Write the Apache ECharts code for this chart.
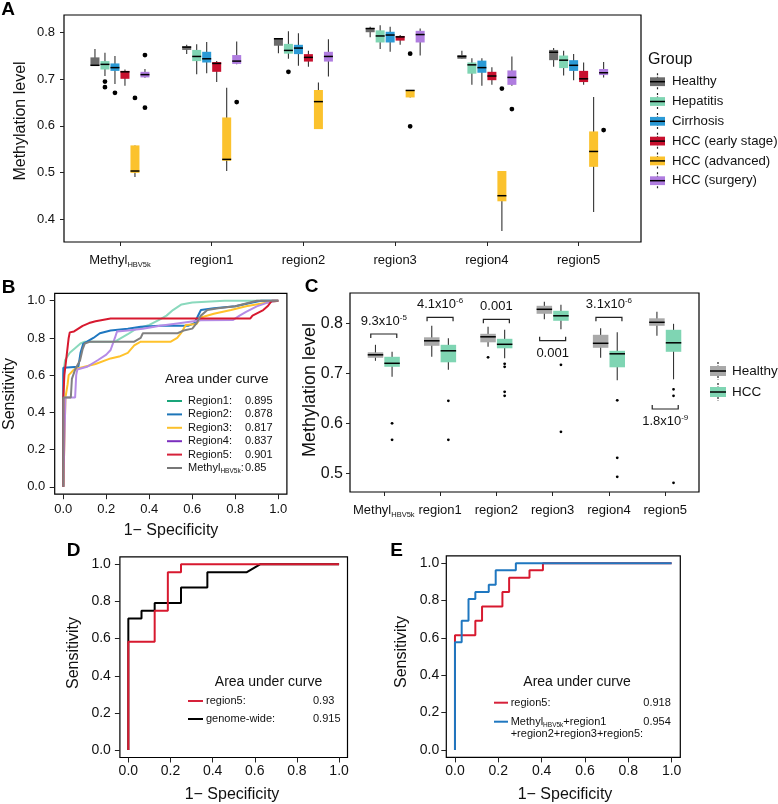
<!DOCTYPE html>
<html><head><meta charset="utf-8">
<script src="https://cdn.jsdelivr.net/npm/echarts@6/dist/echarts.min.js"></script>
<style>html,body{margin:0;padding:0;background:#fff}#c{width:778px;height:804px}</style>
</head><body><div id="c"></div>
<script>
const FONT = '"Liberation Sans", Arial, Helvetica, sans-serif';

// ---------------- Panel A : methylation by group ----------------
const regionLabels = ['{m|Methyl}{s|HBV5k}', '{m|region1}', '{m|region2}', '{m|region3}', '{m|region4}', '{m|region5}'];
const groupNames = ['Healthy', 'Hepatitis', 'Cirrhosis', 'HCC (early stage)', 'HCC (advanced)', 'HCC (surgery)'];
const groupColors = ['#6b6b6b', '#7fd5b3', '#2b9ad6', '#c8102e', '#fbc22d', '#b07de0'];
// [min, Q1, median, Q3, max] for Methyl, region1..region5
const boxHealthy   = [[0.729,0.729,0.730,0.747,0.765],[0.754,0.763,0.769,0.771,0.774],[0.756,0.772,0.787,0.788,0.788],[0.790,0.801,0.809,0.810,0.813],[0.744,0.744,0.749,0.752,0.761],[0.727,0.741,0.758,0.763,0.767]];
const boxHepatitis = [[0.707,0.721,0.732,0.739,0.757],[0.711,0.739,0.749,0.763,0.775],[0.744,0.755,0.762,0.776,0.803],[0.765,0.779,0.793,0.805,0.816],[0.688,0.712,0.731,0.736,0.745],[0.708,0.724,0.741,0.751,0.761]];
const boxCirrhosis = [[0.690,0.718,0.725,0.734,0.750],[0.713,0.736,0.744,0.759,0.780],[0.729,0.754,0.767,0.774,0.799],[0.759,0.779,0.795,0.802,0.813],[0.686,0.714,0.725,0.740,0.745],[0.698,0.718,0.730,0.741,0.754]];
const boxEarly     = [[0.686,0.701,0.716,0.718,0.721],[0.694,0.716,0.734,0.737,0.739],[0.727,0.738,0.747,0.754,0.761],[0.774,0.783,0.791,0.793,0.795],[0.688,0.698,0.707,0.716,0.726],[0.688,0.694,0.701,0.718,0.736]];
const boxAdvanced  = [[0.490,0.499,0.503,0.558,0.558],[0.503,0.525,0.528,0.618,0.682],[0.593,0.593,0.652,0.677,0.693],[0.661,0.661,0.676,0.677,0.677],[0.374,0.438,0.450,0.503,0.503],[0.415,0.512,0.545,0.588,0.662]];
const boxSurgery   = [[0.703,0.704,0.710,0.716,0.722],[0.732,0.733,0.739,0.752,0.781],[0.706,0.738,0.749,0.759,0.786],[0.751,0.779,0.796,0.804,0.809],[0.686,0.688,0.704,0.719,0.749],[0.704,0.709,0.714,0.722,0.737]];
// outliers [regionIndex, value]
const outHealthy   = [];
const outHepatitis = [[0,0.695],[0,0.683],[2,0.716]];
const outCirrhosis = [[0,0.671]];
const outEarly     = [];
const outAdvanced  = [[0,0.660],[3,0.755],[3,0.599],[4,0.680]];
const outSurgery   = [[0,0.752],[0,0.639],[1,0.651],[4,0.636],[5,0.591]];
const yTicksA = [0.4, 0.5, 0.6, 0.7, 0.8];

// ---------------- Panel B : ROC curves ----------------
const rocNamesB = ['Region1:', 'Region2:', 'Region3:', 'Region4:', 'Region5:', '{m|Methyl}{s|HBV5k}{m|:}'];
const aucB = ['0.895', '0.878', '0.817', '0.837', '0.901', '0.85'];
const rocRegion1 = [[0,0],[0,0.6],[0.008,0.68],[0.03,0.72],[0.06,0.75],[0.08,0.77],[0.1,0.78],[0.24,0.78],[0.27,0.8],[0.3,0.82],[0.34,0.85],[0.4,0.87],[0.45,0.9],[0.48,0.92],[0.51,0.95],[0.55,0.98],[0.6,0.99],[0.75,1],[1,1]];
const rocRegion2 = [[0,0],[0,0.64],[0.07,0.645],[0.08,0.72],[0.093,0.77],[0.11,0.78],[0.14,0.8],[0.17,0.825],[0.22,0.84],[0.3,0.85],[0.36,0.86],[0.45,0.865],[0.58,0.865],[0.61,0.88],[0.64,0.95],[0.7,0.96],[0.8,0.97],[0.88,0.99],[0.92,1],[1,1]];
const rocRegion3 = [[0,0],[0.01,0.48],[0.02,0.55],[0.025,0.6],[0.05,0.63],[0.08,0.64],[0.15,0.66],[0.22,0.69],[0.26,0.7],[0.3,0.72],[0.33,0.76],[0.36,0.78],[0.5,0.78],[0.53,0.8],[0.55,0.83],[0.57,0.87],[0.62,0.875],[0.64,0.91],[0.7,0.93],[0.78,0.95],[0.85,0.97],[0.95,0.99],[1,1]];
const rocRegion4 = [[0,0],[0.01,0.48],[0.055,0.48],[0.06,0.6],[0.065,0.63],[0.11,0.645],[0.16,0.68],[0.2,0.71],[0.22,0.735],[0.24,0.8],[0.25,0.835],[0.3,0.84],[0.37,0.85],[0.45,0.865],[0.53,0.878],[0.64,0.895],[0.79,0.897],[0.82,0.92],[0.85,0.94],[0.9,0.97],[0.95,0.99],[1,1]];
const rocRegion5 = [[0,0],[0,0.48],[0.005,0.6],[0.015,0.7],[0.025,0.8],[0.03,0.83],[0.05,0.835],[0.07,0.85],[0.09,0.865],[0.12,0.88],[0.15,0.89],[0.22,0.905],[0.87,0.905],[0.88,0.92],[0.93,0.95],[0.95,0.97],[0.97,1],[1,1]];
const rocMethyl  = [[0,0],[0,0.48],[0.035,0.48],[0.04,0.58],[0.055,0.63],[0.078,0.68],[0.09,0.74],[0.1,0.77],[0.125,0.78],[0.33,0.78],[0.36,0.8],[0.37,0.825],[0.53,0.825],[0.56,0.84],[0.6,0.85],[0.62,0.88],[0.64,0.92],[0.67,0.95],[0.72,0.96],[0.8,0.97],[0.9,1],[1,1]];
const rocTicks = [0, 0.2, 0.4, 0.6, 0.8, 1.0];

// ---------------- Panel C : Healthy vs HCC ----------------
const groupNamesC = ['Healthy', 'HCC'];
const groupColorsC = ['#a9a9a9', '#7fd5b3'];
const boxCHealthy = [[0.725,0.731,0.737,0.742,0.757],[0.733,0.755,0.765,0.772,0.795],[0.753,0.762,0.773,0.779,0.793],[0.808,0.819,0.828,0.835,0.843],[0.731,0.751,0.760,0.777,0.790],[0.775,0.795,0.802,0.810,0.823]];
const boxCHCC     = [[0.693,0.713,0.720,0.733,0.743],[0.707,0.722,0.745,0.757,0.770],[0.730,0.750,0.758,0.769,0.787],[0.788,0.805,0.815,0.825,0.837],[0.686,0.712,0.739,0.745,0.782],[0.688,0.743,0.761,0.787,0.799]];
const outCHealthy = [[2,0.732]];
const outCHCC     = [[0,0.600],[0,0.567],[1,0.645],[1,0.567],[2,0.719],[2,0.713],[2,0.663],[2,0.655],[3,0.717],[3,0.583],[4,0.646],[4,0.531],[4,0.493],[5,0.668],[5,0.655],[5,0.481]];
const pValueTexts = ['9.3x10{p|-5}', '4.1x10{p|-6}', '0.001', '0.001', '3.1x10{p|-6}', '1.8x10{p|-9}'];
// annotation anchor: [regionIndex, bracket level, side (1 above / -1 below)]
const pBrackets = [[0,0.7786,1],[1,0.812,1],[2,0.808,1],[3,0.7652,-1],[4,0.812,1],[5,0.6286,-1]];
const yTicksC = [0.5, 0.6, 0.7, 0.8];

// ---------------- Panel D / E : ROC ----------------
const rocDRegion5 = [[0,0],[0,0.583],[0.125,0.583],[0.125,0.75],[0.1875,0.75],[0.1875,0.958],[0.25,0.958],[0.25,1],[1,1]];
const rocDGenome  = [[0,0],[0,0.708],[0.0625,0.708],[0.0625,0.75],[0.125,0.75],[0.125,0.792],[0.25,0.792],[0.25,0.875],[0.375,0.875],[0.375,0.958],[0.5625,0.958],[0.625,1],[1,1]];
const aucD = ['0.93', '0.915'];
const rocERegion5 = [[0,0],[0,0.615],[0.094,0.615],[0.094,0.692],[0.125,0.692],[0.125,0.769],[0.219,0.769],[0.219,0.846],[0.25,0.846],[0.25,0.923],[0.344,0.923],[0.344,0.962],[0.406,0.962],[0.406,1],[1,1]];
const rocECombined = [[0,0],[0,0.577],[0.031,0.577],[0.031,0.692],[0.0625,0.692],[0.0625,0.808],[0.094,0.808],[0.094,0.846],[0.156,0.846],[0.156,0.885],[0.188,0.885],[0.188,0.962],[0.281,0.962],[0.281,1],[1,1]];
const aucE = ['0.918', '0.954'];

// ======================================================
const idx6 = [0, 1, 2, 3, 4, 5];
const TXT = '#111';

function subRich(fs, lh, sfs, pad) {
  return {
    m: { fontSize: fs, lineHeight: lh, fontFamily: FONT, color: TXT, fill: TXT },
    s: { fontSize: sfs, padding: [pad, 0, 0, 0], fontFamily: FONT, color: TXT, fill: TXT },
    p: { fontSize: sfs, padding: [0, 0, pad, 0], fontFamily: FONT, color: TXT, fill: TXT }
  };
}

function valueAxis(gridIndex, min, max, vals, fmt, labelOpt, tickLen) {
  return {
    type: 'value', gridIndex, min, max,
    splitLine: { show: false }, axisLine: { show: false, onZero: false },
    axisTick: { show: true, customValues: vals, length: tickLen, lineStyle: { color: '#222', width: 1 } },
    axisLabel: Object.assign({ show: true, customValues: vals, formatter: fmt, color: TXT, fontFamily: FONT }, labelOpt)
  };
}

function boxRender(slot, nSlots, spacing, width, color) {
  return function (params, api) {
    const i = api.value(0);
    const off = (slot - (nSlots - 1) / 2) * spacing;
    const c = k => api.coord([i, api.value(k)]);
    const x = c(3)[0] + off;
    const yMin = c(1)[1], yQ1 = c(2)[1], yMed = c(3)[1], yQ3 = c(4)[1], yMax = c(5)[1];
    const h = width / 2;
    return { type: 'group', children: [
      { type: 'line', shape: { x1: x, y1: yMax, x2: x, y2: yMin }, style: { stroke: '#333', lineWidth: 1.1 } },
      { type: 'rect', shape: { x: x - h, y: yQ3, width: width, height: Math.max(yQ1 - yQ3, 0.8) }, style: { fill: color } },
      { type: 'line', shape: { x1: x - h, y1: yMed, x2: x + h, y2: yMed }, style: { stroke: '#000', lineWidth: 1.5 } }
    ]};
  };
}
function outlierRender(nSlots, spacing, r) {
  return function (params, api) {
    const p = api.coord([api.value(0), api.value(1)]);
    const off = (api.value(2) - (nSlots - 1) / 2) * spacing;
    return { type: 'circle', shape: { cx: p[0] + off, cy: p[1], r: r }, style: { fill: '#000' } };
  };
}
function boxSeries(name, data, slot, nSlots, spacing, width, color, xi, yi) {
  return { type: 'custom', name, xAxisIndex: xi, yAxisIndex: yi, data: data.map((b, i) => [i].concat(b)),
    encode: { x: 0, y: [1, 2, 3, 4, 5] }, renderItem: boxRender(slot, nSlots, spacing, width, color), z: 3 };
}
function outlierSeries(lists, nSlots, spacing, r, xi, yi) {
  const data = [];
  lists.forEach((lst, g) => lst.forEach(o => data.push([o[0], o[1], g])));
  return { type: 'custom', xAxisIndex: xi, yAxisIndex: yi, data, encode: { x: 0, y: 1 },
    renderItem: outlierRender(nSlots, spacing, r), z: 4 };
}
function rocLine(data, color, xi, yi, z) {
  return { type: 'line', xAxisIndex: xi, yAxisIndex: yi, data, symbol: 'none', showSymbol: false,
    lineStyle: { color, width: 2 }, z: z || 2, silent: true };
}

const boxesA = [boxHealthy, boxHepatitis, boxCirrhosis, boxEarly, boxAdvanced, boxSurgery];
const outsA = [outHealthy, outHepatitis, outCirrhosis, outEarly, outAdvanced, outSurgery];
const rocB = [rocRegion1, rocRegion2, rocRegion3, rocRegion4, rocRegion5, rocMethyl];
const rocBColors = ['#8ad9bd', '#1f77c0', '#ffc22b', '#b58be6', '#d7192f', '#808080'];
const rocBLegendColors = ['#1aa57a', '#1d75b8', '#fbc02d', '#7b2fbe', '#d6213a', '#777777'];

const series = [];
boxesA.forEach((b, g) => series.push(boxSeries(groupNames[g], b, g, 6, 10, 9, groupColors[g], 0, 0)));
series.push(outlierSeries(outsA, 6, 10, 2.4, 0, 0));
rocB.forEach((d, k) => series.push(rocLine(d, rocBColors[k], 1, 1, 2 + k * 0.1)));
series.push(boxSeries('Healthy', boxCHealthy, 0, 2, 16.6, 15.5, groupColorsC[0], 2, 2));
series.push(boxSeries('HCC', boxCHCC, 1, 2, 16.6, 15.5, groupColorsC[1], 2, 2));
series.push(outlierSeries([outCHealthy, outCHCC], 2, 16.6, 1.4, 2, 2));
series.push({
  type: 'custom', xAxisIndex: 2, yAxisIndex: 2, data: pBrackets, encode: { x: 0, y: 1 }, z: 5,
  renderItem: function (params, api) {
    const p = api.coord([api.value(0), api.value(1)]);
    const s = api.value(2), hw = 13, leg = 4;
    return { type: 'group', children: [
      { type: 'polyline', shape: { points: [[p[0] - hw, p[1] + leg * s], [p[0] - hw, p[1]], [p[0] + hw, p[1]], [p[0] + hw, p[1] + leg * s]] },
        style: { stroke: '#222', lineWidth: 1.2, fill: null } },
      { type: 'text', x: p[0], y: p[1] - 12.5 * s,
        style: { text: pValueTexts[params.dataIndex], fontSize: 13, fontFamily: FONT, fill: TXT,
          align: 'center', verticalAlign: 'middle', textAlign: 'center', textVerticalAlign: 'middle',
          rich: subRich(13, 16, 8, 8) } }
    ]};
  }
});
series.push(rocLine(rocDGenome, '#000', 3, 3, 2));
series.push(rocLine(rocDRegion5, '#d7192f', 3, 3, 3));
series.push(rocLine(rocERegion5, '#d7192f', 4, 4, 2));
series.push(rocLine(rocECombined, '#1f77c0', 4, 4, 3));

const gridStyle = { show: true, borderColor: '#000', borderWidth: 1.2, backgroundColor: 'transparent' };
const f1 = v => v.toFixed(1);

// ---------- graphic (legends, titles, panel letters) ----------
const G = [];
function txt(x, y, text, fs, opt) {
  const o = Object.assign({ type: 'text', x, y, z: 100, style: Object.assign({ text, fontSize: fs, fontFamily: FONT, fill: TXT,
    align: 'left', verticalAlign: 'middle', textAlign: 'left', textVerticalAlign: 'middle' }, (opt && opt.style) || {}) }, opt ? { rotation: opt.rotation || 0 } : {});
  G.push(o);
}
function center(o) { return { style: Object.assign({ align: 'center', textAlign: 'center' }, o || {}) }; }
// panel letters
[['A', 8, 10], ['B', 8.5, 287.5], ['C', 311.5, 286.5], ['D', 73.5, 551], ['E', 396.5, 551]].forEach(l =>
  txt(l[1], l[2], l[0], 19, center({ fontWeight: 'bold', fill: '#000' })));
// axis titles
const rot = Math.PI / 2;
txt(20.7, 121, 'Methylation level', 16, { rotation: rot, style: { align: 'center', textAlign: 'center' } });
txt(10, 394, 'Sensitivity', 16, { rotation: rot, style: { align: 'center', textAlign: 'center' } });
txt(171, 531, '1\u2212 Specificity', 16, center());
txt(310, 390, 'Methylation level', 18, { rotation: rot, style: { align: 'center', textAlign: 'center' } });
txt(74, 653, 'Sensitivity', 16, { rotation: rot, style: { align: 'center', textAlign: 'center' } });
txt(232, 795, '1\u2212 Specificity', 16, center());
txt(402, 652, 'Sensitivity', 16, { rotation: rot, style: { align: 'center', textAlign: 'center' } });
txt(565, 795, '1\u2212 Specificity', 16, center());

// box legend (A and C)
function boxLegendItem(xl, y, w, h, color, label, tx, fs) {
  const xc = xl + w / 2;
  G.push({ type: 'line', z: 100, shape: { x1: xc, y1: y - h / 2 - 4, x2: xc, y2: y + h / 2 + 4 }, style: { stroke: '#222', lineWidth: 1.2, lineDash: [2, 1.5] } });
  G.push({ type: 'rect', z: 101, shape: { x: xl, y: y - h / 2, width: w, height: h }, style: { fill: color } });
  G.push({ type: 'line', z: 102, shape: { x1: xl, y1: y, x2: xl + w, y2: y }, style: { stroke: '#000', lineWidth: 1.5 } });
  txt(tx, y, label, fs);
}
txt(648, 59.3, 'Group', 16);
groupNames.forEach((n, g) => boxLegendItem(650, 81.7 + g * 19.8, 15, 8.8, groupColors[g], n, 672, 13.2));
groupNamesC.forEach((n, g) => boxLegendItem(710, 371 + g * 21, 16, 10, groupColorsC[g], n, 732, 13.5));

// line legends
const legRich = subRich(11, 13, 6.5, 7);
function lineLegendItem(x1, x2, y, color, label, lx, value, vx) {
  G.push({ type: 'line', z: 100, shape: { x1, y1: y, x2, y2: y }, style: { stroke: color, lineWidth: 2 } });
  txt(lx, y, label, 11, { style: { rich: legRich } });
  if (value) txt(vx, y, value, 11);
}
txt(165, 379, 'Area under curve', 13.5);
rocNamesB.forEach((n, k) => lineLegendItem(167, 182, 401 + k * 13.4, rocBLegendColors[k], n, 188, aucB[k], 245));
txt(268.5, 682, 'Area under curve', 14, center());
lineLegendItem(188, 203, 701, '#d6213a', 'region5:', 206, aucD[0], 313);
lineLegendItem(188, 203, 719, '#000', 'genome-wide:', 206, aucD[1], 313);
txt(577, 682.3, 'Area under curve', 14, center());
lineLegendItem(494, 508, 702.7, '#d6213a', 'region5:', 510.7, aucE[0], 643.3);
lineLegendItem(494, 508, 721.7, '#1f77c0', '{m|Methyl}{s|HBV5k}{m|+region1}', 510.7, aucE[1], 643.3);
txt(510.7, 733.8, '+region2+region3+region5:', 11);

const option = {
  animation: false,
  textStyle: { fontFamily: FONT },
  grid: [
    Object.assign({ left: 64, top: 15, width: 577, height: 227 }, gridStyle),
    Object.assign({ left: 54.7, top: 293.3, width: 232.2, height: 200.9 }, gridStyle),
    Object.assign({ left: 350, top: 293, width: 349, height: 199 }, gridStyle),
    Object.assign({ left: 119.9, top: 556.9, width: 227.6, height: 200.6 }, gridStyle),
    Object.assign({ left: 446.3, top: 555.8, width: 234, height: 201.6 }, gridStyle)
  ],
  xAxis: [
    valueAxis(0, -0.61, 5.68, idx6, v => regionLabels[Math.round(v)], { fontSize: 13, margin: 9, rich: subRich(13, 18, 7.5, 10) }, 4),
    valueAxis(1, -0.04, 1.04, rocTicks, f1, { fontSize: 13, margin: 8.5 }, 5),
    valueAxis(2, -0.6, 5.6, idx6, v => regionLabels[Math.round(v)], { fontSize: 13, margin: 9, rich: subRich(13, 18, 7.5, 10) }, 4),
    valueAxis(3, -0.04, 1.04, rocTicks, f1, { fontSize: 14, margin: 7 }, 5),
    valueAxis(4, -0.04, 1.04, rocTicks, f1, { fontSize: 14, margin: 7 }, 5)
  ],
  yAxis: [
    valueAxis(0, 0.3506, 0.838, yTicksA, f1, { fontSize: 13, margin: 9 }, 4),
    valueAxis(1, -0.04, 1.04, rocTicks, f1, { fontSize: 13, margin: 9.5 }, 5),
    valueAxis(2, 0.4626, 0.8606, yTicksC, f1, { fontSize: 16, margin: 7 }, 4),
    valueAxis(3, -0.04, 1.04, rocTicks, f1, { fontSize: 14, margin: 9 }, 5),
    valueAxis(4, -0.04, 1.04, rocTicks, f1, { fontSize: 14, margin: 7 }, 5)
  ],
  series,
  graphic: { elements: G }
};

const chart = echarts.init(document.getElementById('c'));
chart.setOption(option);
</script>
</body></html>
